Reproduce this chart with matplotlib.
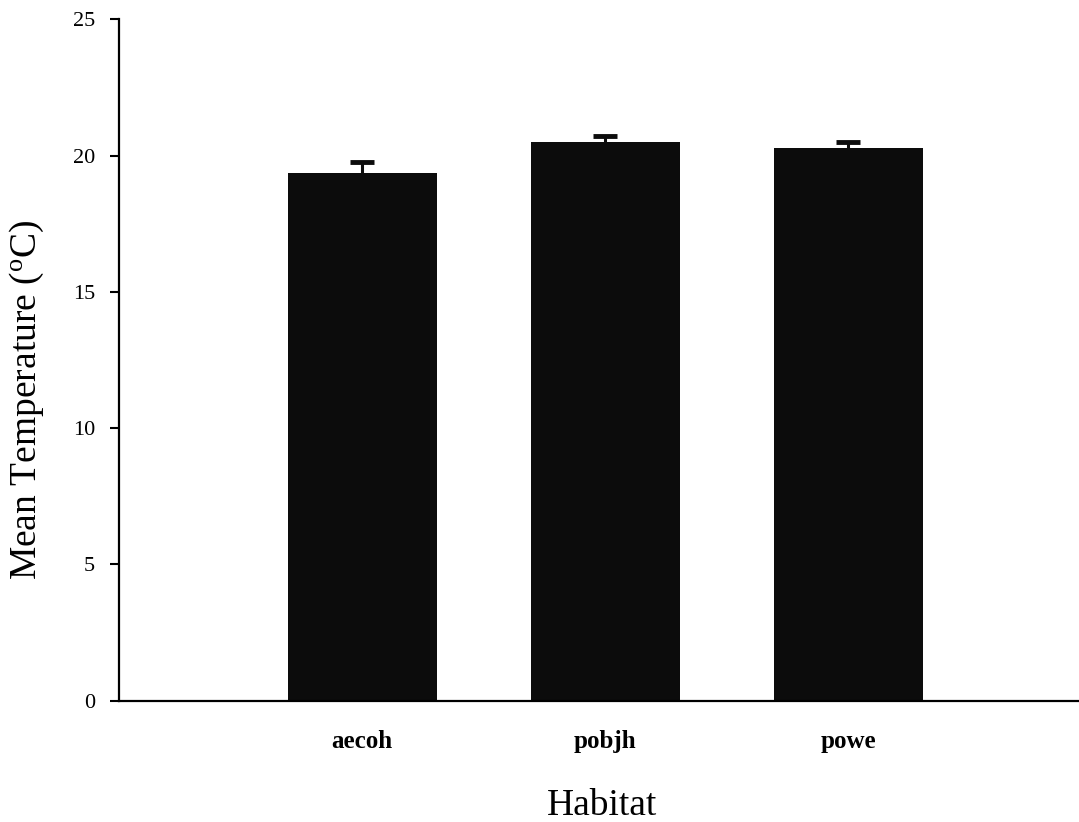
import matplotlib
matplotlib.use("Agg")
import matplotlib.pyplot as plt
import numpy as np

# Mean temperature per habitat with upper standard-error bars
habitats = ["aecoh", "pobjh", "powe"]
mean_temp = [19.38, 20.50, 20.28]
sem_temp = [0.38, 0.23, 0.21]
y_ticks = [0, 5, 10, 15, 20, 25]

plt.rcParams["font.family"] = ["Liberation Serif", "DejaVu Serif"]
plt.rcParams["mathtext.fontset"] = "custom"
plt.rcParams["mathtext.rm"] = "Liberation Serif"
plt.rcParams["mathtext.it"] = "Liberation Serif"

fig = plt.figure(figsize=(10.79, 8.22), dpi=100)
ax = fig.add_axes([119.3 / 1079, 1 - 700.7 / 822, 1 - 119.3 / 1079, (700.7 - 19.5) / 822])

x = np.arange(len(habitats))
bar_color = "#0c0c0c"
ax.bar(x, mean_temp, width=0.613, color=bar_color, zorder=2)
_, caps, _ = ax.errorbar(x, mean_temp, yerr=[np.zeros(len(sem_temp)), sem_temp],
                         fmt="none", ecolor=bar_color, elinewidth=2.2,
                         capsize=8.5, capthick=3.5, zorder=3)
# keep only the upper caps
caps[0].set_visible(False)

ax.set_xlim(-1, 2.95)
ax.set_ylim(0, 25)
ax.set_yticks(y_ticks)
ax.set_yticklabels([str(v) for v in y_ticks], fontsize=16)
ax.set_xticks(x)
ax.set_xticklabels(habitats, fontsize=18, fontweight="bold")

ax.tick_params(axis="y", direction="out", length=6.5, width=1.5, pad=11)
ax.tick_params(axis="x", length=0, pad=21)

for side in ("top", "right"):
    ax.spines[side].set_visible(False)
for side in ("left", "bottom"):
    ax.spines[side].set_linewidth(1.6)

ax.set_xlabel("Habitat", fontsize=27)
ax.xaxis.set_label_coords((602 - 119.3) / 959.7, -(815 - 700.7) / 681.2)
ax.xaxis.label.set_verticalalignment("baseline")

ax.set_ylabel(r"Mean Temperature ($^{\mathrm{o}}$C)", fontsize=27)
ax.yaxis.set_label_coords((46 - 119.3) / 959.7, (700.7 - 400) / 681.2)

fig.savefig("out.png", dpi=100)
